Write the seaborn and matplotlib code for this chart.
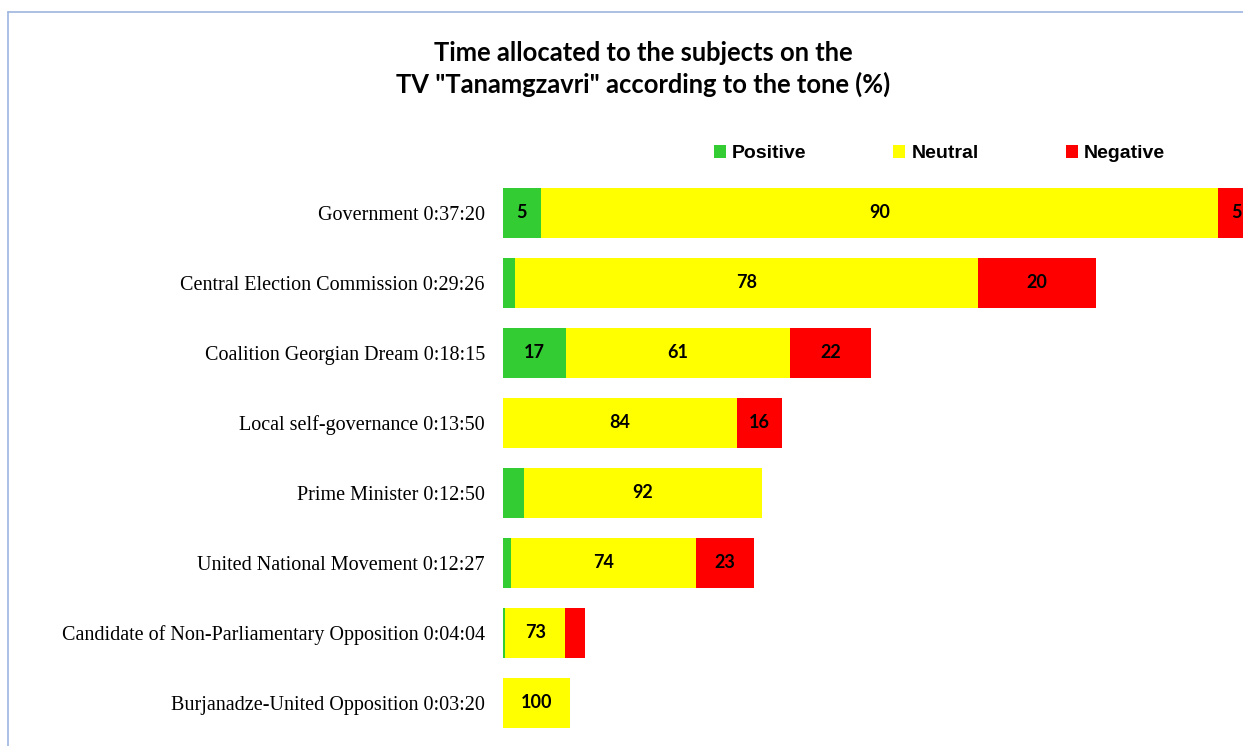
import matplotlib
matplotlib.use("Agg")
import matplotlib.pyplot as plt
from matplotlib.patches import Patch
from matplotlib.lines import Line2D
import seaborn as sns
import pandas as pd

subjects = [
    "Government",
    "Central Election Commission",
    "Coalition Georgian Dream",
    "Local self-governance",
    "Prime Minister",
    "United National Movement",
    "Candidate of Non-Parliamentary Opposition",
    "Burjanadze-United Opposition",
]
durations = ["0:37:20", "0:29:26", "0:18:15", "0:13:50", "0:12:50", "0:12:27", "0:04:04", "0:03:20"]
positive = [5, 2, 17, 0, 8, 3, 3, 0]
neutral = [90, 78, 61, 84, 92, 74, 73, 100]
negative = [5, 20, 22, 16, 0, 23, 24, 0]
tones = ["Positive", "Neutral", "Negative"]
colors = ["#33CC33", "#FFFF00", "#FF0000"]


def to_seconds(s):
    h, m, sec = (int(p) for p in s.split(":"))
    return h * 3600 + m * 60 + sec


labels = [f"{s} {d}" for s, d in zip(subjects, durations)]
secs = [to_seconds(d) for d in durations]
df = pd.DataFrame({"label": labels, "secs": secs, "pos": positive, "neu": neutral, "neg": negative})
df["pos_w"] = df["secs"] * df["pos"] / 100
df["neu_w"] = df["secs"] * df["neu"] / 100
df["neg_w"] = df["secs"] * df["neg"] / 100
df["pos_end"] = df["pos_w"]
df["neu_end"] = df["pos_w"] + df["neu_w"]
df["neg_end"] = df["neu_end"] + df["neg_w"]

sns.set_theme(style="white")
W, H = 1243, 746
fig = plt.figure(figsize=(W / 100, H / 100), dpi=100)
ax = fig.add_axes([503 / W, 8 / H, 740 / W, 560 / H])

bw = 50 / 70
for col, c in zip(["neg_end", "neu_end", "pos_end"], colors[::-1]):
    sns.barplot(data=df, y="label", x=col, color=c, orient="h", width=bw,
                saturation=1, linewidth=0, ax=ax, errorbar=None)

ax.set_xlim(0, 2203)
ax.set_xlabel("")
ax.set_ylabel("")
ax.set_xticks([])
sns.despine(ax=ax, left=True, bottom=True)
ax.tick_params(axis="y", length=0, pad=13)
for t in ax.get_yticklabels():
    t.set_fontfamily("Liberation Serif")
    t.set_fontsize(14.5)
    t.set_color("black")

# data labels
thr = 90
for i, r in df.iterrows():
    segs = [(0, r["pos_w"], r["pos"]), (r["pos_end"], r["neu_w"], r["neu"]), (r["neu_end"], r["neg_w"], r["neg"])]
    for start, w, v in segs:
        if w >= thr:
            ax.text(start + w / 2, i, f"{v:g}", ha="center", va="center",
                    fontfamily="Lato", fontweight="bold", fontsize=13, color="black")

# title
fig.text(643 / W, 1 - 69 / H, 'Time allocated to the subjects on the\nTV "Tanamgzavri" according to the tone (%)',
         ha="center", va="center", fontfamily="Lato", fontweight="bold", fontsize=18.4,
         linespacing=1.33, color="black")

# legend
handles = [Patch(facecolor=c, edgecolor="none", label=t) for t, c in zip(tones, colors)]
fig.legend(handles=handles, ncol=3, loc="center left", bbox_to_anchor=(696 / W, 1 - 153.5 / H),
           frameon=False, handlelength=0.62, handleheight=0.62, handletextpad=0.3,
           columnspacing=4.5, labelcolor="black",
           prop={"family": "Liberation Sans", "weight": "bold", "size": 14})

# chart-area border (top and left)
bc = "#9DB5E0"
fig.add_artist(Line2D([7.5 / W, 1.0], [1 - 11.5 / H, 1 - 11.5 / H], color=bc, lw=1.2))
fig.add_artist(Line2D([7.5 / W, 7.5 / W], [0, 1 - 11.5 / H], color=bc, lw=1.2))

fig.savefig("out.png", dpi=100)
